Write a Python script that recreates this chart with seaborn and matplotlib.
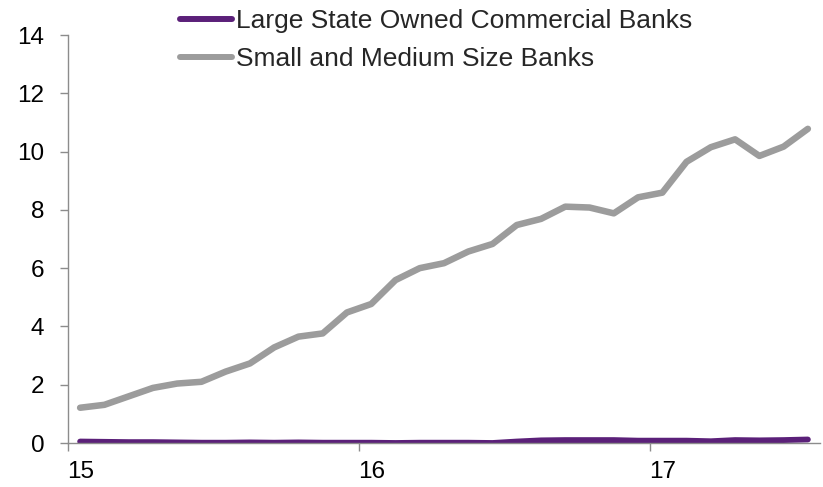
import pandas as pd
import seaborn as sns
import matplotlib.pyplot as plt

# monthly series, Jan 2015 - Jul 2017
months = list(range(31))
large_banks = [0.05, 0.04, 0.03, 0.03, 0.02, 0.01, 0.01, 0.02, 0.01, 0.02, 0.01, 0.01,
               0.01, 0.00, 0.01, 0.01, 0.01, 0.00, 0.05, 0.09, 0.10, 0.10, 0.10, 0.08,
               0.08, 0.08, 0.06, 0.10, 0.09, 0.10, 0.12]
small_medium_banks = [1.21, 1.31, 1.60, 1.89, 2.04, 2.10, 2.45, 2.73, 3.28, 3.65, 3.76, 4.48,
                      4.77, 5.59, 6.00, 6.17, 6.57, 6.83, 7.48, 7.69, 8.11, 8.08, 7.88, 8.43,
                      8.59, 9.65, 10.15, 10.42, 9.85, 10.17, 10.78]
series_names = ['Large State Owned Commercial Banks', 'Small and Medium Size Banks']
year_ticks = [15, 16, 17]

df = pd.DataFrame({
    'year': [15 + (m + 0.5) / 12 for m in months] * 2,
    'value': large_banks + small_medium_banks,
    'series': [series_names[0]] * 31 + [series_names[1]] * 31,
})

sns.set_style('white')
plt.rcParams['font.family'] = ['Liberation Sans', 'DejaVu Sans']

purple = '#5b2079'
grey = '#9c9c9c'

fig = plt.figure(figsize=(8.23, 4.87), dpi=100)
ax = fig.add_axes([68 / 823, 1 - 443 / 487, (820 - 68) / 823, (443 - 35) / 487])

sns.lineplot(data=df, x='year', y='value', hue='series', hue_order=series_names[::-1],
             palette={series_names[0]: purple, series_names[1]: grey},
             size='series', sizes={series_names[0]: 4.2, series_names[1]: 4.7},
             ax=ax, legend=False)

ax.set_xlim(15, 15 + 31 / 12)
ax.set_ylim(0, 14)
# year ticks at January, labels centred on the January point (Excel style)
ax.set_xticks(year_ticks)
ax.set_xticklabels([])
ax.set_xticks([y + 0.5 / 12 for y in year_ticks], minor=True)
ax.set_xticklabels([str(y) for y in year_ticks], minor=True)
ax.set_yticks(range(0, 15, 2))
ax.set_xlabel('')
ax.set_ylabel('')
for s in ['top', 'right']:
    ax.spines[s].set_visible(False)
for s in ['left', 'bottom']:
    ax.spines[s].set_color('#8c8c8c')
    ax.spines[s].set_linewidth(1)
ax.tick_params(axis='both', which='major', colors='#8c8c8c', length=6, width=1,
               direction='out', left=True, bottom=True)
ax.tick_params(axis='y', labelsize=17.5, labelcolor='black', pad=11)
ax.tick_params(axis='x', which='minor', length=0, labelsize=17.5, labelcolor='black', pad=13)

handles = [plt.Line2D([], [], color=purple, lw=4.3),
           plt.Line2D([], [], color=grey, lw=4.3)]
fig.legend(handles, series_names, loc='upper left', bbox_to_anchor=(177 / 823, 0.987),
           frameon=False, fontsize=19, handlelength=2.0, handletextpad=0.15,
           borderpad=0.1, borderaxespad=0, labelspacing=0.53)

fig.savefig('out.png', dpi=100)
